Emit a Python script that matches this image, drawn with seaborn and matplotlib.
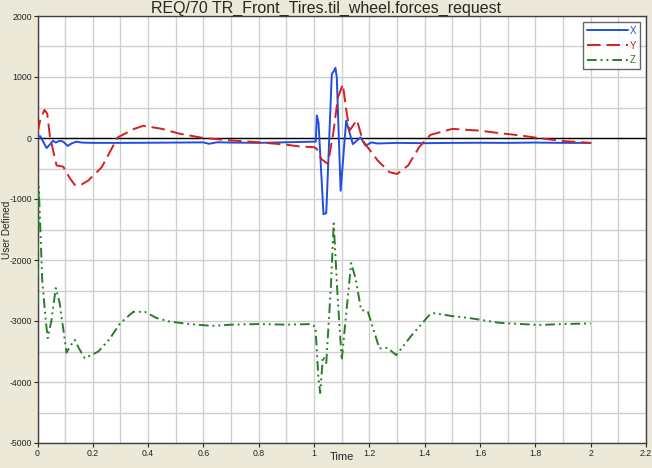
import matplotlib
matplotlib.use("Agg")
import matplotlib.pyplot as plt
from matplotlib.ticker import MultipleLocator, FuncFormatter
import seaborn as sns
import pandas as pd

title = "REQ/70 TR_Front_Tires.til_wheel.forces_request"
series_names = ["X", "Y", "Z"]

x_time = [0, 0.01, 0.033, 0.05, 0.056, 0.066, 0.081, 0.093, 0.109, 0.123, 0.14, 0.16, 0.2, 0.3,
          0.4, 0.5, 0.6, 0.62, 0.65, 0.7, 0.8, 0.9, 1.0, 1.006, 1.010, 1.016, 1.034, 1.044,
          1.064, 1.072, 1.077, 1.082, 1.096, 1.116, 1.14, 1.168, 1.186, 1.207, 1.23, 1.3,
          1.4, 1.5, 1.6, 1.7, 1.8, 1.9, 2.0]
x_vals = [20, 30, -165, -80, -45, -75, -45, -60, -130, -90, -60, -75, -80, -80,
          -78, -75, -72, -95, -70, -75, -80, -70, -60, -60, 370, 250, -1250, -1230,
          1050, 1100, 1150, 1000, -865, 285, -100, 10, -126, -72, -90, -80,
          -85, -80, -78, -80, -75, -80, -80]

y_time = [0, 0.01, 0.025, 0.035, 0.045, 0.069, 0.093, 0.117, 0.135, 0.16, 0.183, 0.232, 0.29,
          0.35, 0.382, 0.45, 0.514, 0.6, 0.7, 0.8, 0.9, 0.95, 1.0, 1.01, 1.026, 1.05, 1.07,
          1.086, 1.104, 1.115, 1.128, 1.155, 1.176, 1.23, 1.273, 1.30, 1.34, 1.38, 1.42,
          1.5, 1.6, 1.67, 1.75, 1.81, 1.9, 2.0]
y_vals = [80, 300, 460, 400, 20, -450, -470, -660, -770, -760, -700, -480, 10,
          150, 200, 150, 70, 0, -40, -70, -110, -140, -150, -180, -345, -425, 100,
          665, 880, 500, 120, 295, -45, -370, -560, -590, -450, -150, 50,
          150, 120, 80, 40, 0, -50, -80]

z_time = [0, 0.004, 0.008, 0.017, 0.03, 0.037, 0.05, 0.066, 0.08, 0.105, 0.12, 0.135, 0.15,
          0.171, 0.22, 0.26, 0.298, 0.346, 0.388, 0.43, 0.478, 0.55, 0.63, 0.7, 0.8, 0.9,
          0.99, 1.005, 1.015, 1.022, 1.032, 1.044, 1.06, 1.071, 1.085, 1.10, 1.12, 1.134,
          1.15, 1.17, 1.194, 1.236, 1.265, 1.297, 1.35, 1.417, 1.43, 1.5, 1.56, 1.67, 1.81,
          1.9, 2.0]
z_vals = [-2700, -800, -1200, -2330, -3000, -3280, -3000, -2460, -2700, -3520, -3400, -3310,
          -3450, -3610, -3500, -3300, -3040, -2850, -2850, -2950, -3010, -3050, -3080, -3060,
          -3050, -3060, -3050, -3100, -3900, -4180, -3580, -3690, -2500, -1400, -2600, -3640,
          -2700, -2050, -2300, -2820, -2840, -3450, -3440, -3560, -3250, -2900, -2870, -2920,
          -2950, -3030, -3065, -3050, -3040]

y_ticks = [-5000, -4000, -3000, -2000, -1000, 0, 1000, 2000]
x_ticks = [0, 0.2, 0.4, 0.6, 0.8, 1.0, 1.2, 1.4, 1.6, 1.8, 2.0, 2.2]

sns.set_style("white")
plt.rcParams['font.family'] = ['Liberation Sans', 'DejaVu Sans']
plt.rcParams['axes.unicode_minus'] = False

bg = "#ECE9D8"
fig = plt.figure(figsize=(6.52, 4.68), dpi=100, facecolor=bg)
ax = fig.add_axes([37.5 / 652, 1 - 443 / 468, (646 - 37.5) / 652, (443 - 16) / 468])
ax.set_facecolor("white")

colors = {"X": "#1f4fe0", "Y": "#d42020", "Z": "#2a7d2a"}
styles = {"X": "-", "Y": (0, (7, 3)), "Z": (0, (5, 2, 1, 2, 1, 2))}
data = {"X": (x_time, x_vals), "Y": (y_time, y_vals), "Z": (z_time, z_vals)}

ax.axhline(0, color="black", lw=1.0, zorder=1)
for name in series_names:
    t, v = data[name]
    df = pd.DataFrame({"Time": t, "val": v})
    sns.lineplot(data=df, x="Time", y="val", ax=ax, color=colors[name], lw=1.4,
                 linestyle=styles[name], label=name, estimator=None, sort=False, zorder=3)

ax.set_xlim(0, 2.2)
ax.set_ylim(-5000, 2000)
ax.set_xticks(x_ticks)
ax.xaxis.set_minor_locator(MultipleLocator(0.1))
ax.set_yticks(y_ticks)
ax.yaxis.set_minor_locator(MultipleLocator(500))
ax.xaxis.set_major_formatter(FuncFormatter(lambda v, p: f"{v:g}"))
ax.yaxis.set_major_formatter(FuncFormatter(lambda v, p: f"{int(v)}"))
ax.grid(True, which="both", color="#cfcfcf", lw=1.0, zorder=0)
ax.set_axisbelow(True)
ax.tick_params(axis="both", which="major", labelsize=6.3, length=3, width=0.8,
               direction="out", left=True, bottom=True, pad=1)
ax.tick_params(axis="both", which="minor", length=0)
for s in ax.spines.values():
    s.set_color("#404040")
    s.set_linewidth(1.0)

ax.set_xlabel("Time", fontsize=8)
ax.set_ylabel("User Defined", fontsize=7.2)
ax.xaxis.set_label_coords(0.5, (443 - 452) / 427, transform=ax.transAxes)
ax.yaxis.set_label_coords((12 - 37.5) / 608.5, 0.5, transform=ax.transAxes)
fig.text(0.5, 0.982, title, ha="center", va="center", fontsize=11.5)

leg = ax.legend(loc="upper right", fontsize=7, handlelength=4.2, labelcolor="linecolor",
                frameon=True, fancybox=False, borderpad=0.4, labelspacing=0.5,
                handletextpad=0.2, borderaxespad=0.6)
leg.get_frame().set_edgecolor("#404040")
leg.get_frame().set_linewidth(1.0)

fig.savefig("out.png", dpi=100, facecolor=bg)
